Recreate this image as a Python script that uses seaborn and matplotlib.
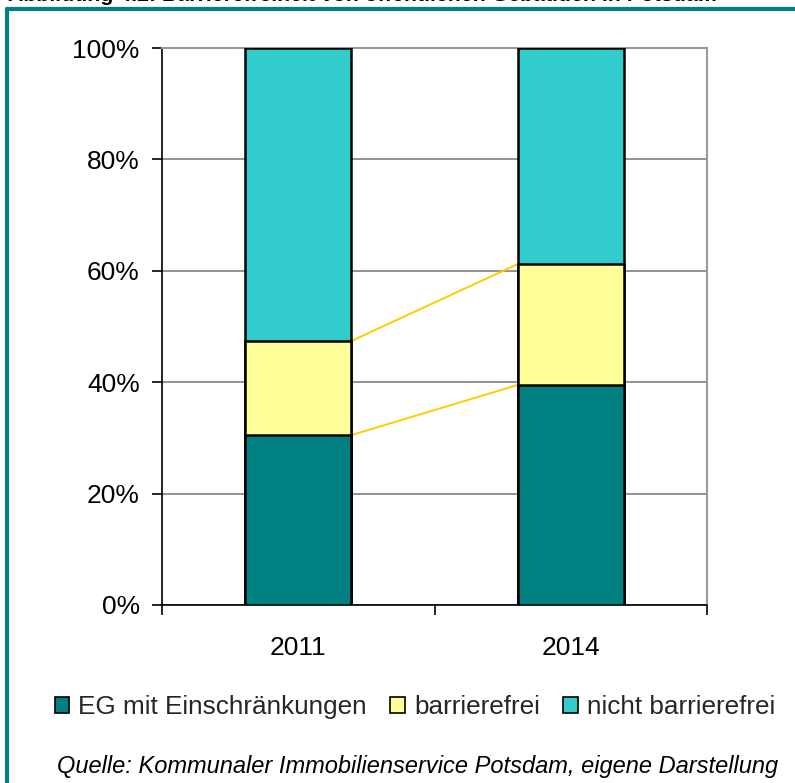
import matplotlib
matplotlib.use("Agg")
import matplotlib.pyplot as plt
import seaborn as sns
import numpy as np
import pandas as pd
from matplotlib.patches import Patch
from matplotlib.lines import Line2D
from matplotlib.ticker import PercentFormatter

years = ["2011", "2014"]
eg_mit = [30.5, 39.5]
barrierefrei = [16.9, 21.7]
nicht_barrierefrei = [52.6, 38.8]
series_names = ["EG mit Einschränkungen", "barrierefrei", "nicht barrierefrei"]
colors = ["#008080", "#FFFF99", "#33CCCC"]

sns.set_theme(style="white")
plt.rcParams['font.family'] = ['Liberation Sans', 'DejaVu Sans']

fig = plt.figure(figsize=(7.95, 7.83), dpi=100)
ax = fig.add_axes([162/795, 1-605/783, (707-162)/795, (605-48)/783])

c1 = np.array(eg_mit) / 100
c2 = c1 + np.array(barrierefrei) / 100
c3 = c2 + np.array(nicht_barrierefrei) / 100
df = pd.DataFrame({"year": years, "c1": c1, "c2": c2, "c3": c3})

bw = 0.39
for col, colr in zip(["c3", "c2", "c1"], colors[::-1]):
    sns.barplot(data=df, x="year", y=col, color=colr, width=bw,
                edgecolor="black", linewidth=1.8, saturation=1, ax=ax, zorder=3)

# connector lines
for arr in (c1, c2):
    ax.plot([0 + bw/2, 1 - bw/2], [arr[0], arr[1]], color="#FFCC00", lw=1.4, zorder=2)

ax.set_xlim(-0.5, 1.5)
ax.set_ylim(0, 1)
ax.set_yticks(np.linspace(0, 1, 6))
ax.yaxis.set_major_formatter(PercentFormatter(1.0, decimals=0))
ax.yaxis.grid(True, color="#808080", lw=1.2)
ax.set_axisbelow(True)
ax.set_xlabel("")
ax.set_ylabel("")

for s in ["top", "right"]:
    ax.spines[s].set_color("#999999")
    ax.spines[s].set_linewidth(1.5)
for s in ["left", "bottom"]:
    ax.spines[s].set_color("black")
    ax.spines[s].set_linewidth(1.2)

ax.set_xticks([0, 1])
ax.set_xticklabels(years)
ax.set_xticks([-0.5, 0.5, 1.5], minor=True)
ax.tick_params(axis="x", which="major", length=0, pad=22, labelsize=19, colors="black")
ax.tick_params(axis="x", which="minor", length=7, width=1.2, direction="out", color="black", bottom=True)
ax.tick_params(axis="y", which="major", length=7, width=1.2, direction="out", color="black",
               left=True, pad=9, labelsize=19, labelcolor="black")

handles = [Patch(facecolor=c, edgecolor="black", linewidth=1.2) for c in colors]
fig.legend(handles, series_names, loc="center", bbox_to_anchor=(0.522, 1-707/783), ncol=3,
           frameon=False, fontsize=18.8, handlelength=0.55, handleheight=0.55,
           handletextpad=0.35, columnspacing=0.9)

fig.text(778/795, 1-766/783, "Quelle: Kommunaler Immobilienservice Potsdam, eigene Darstellung",
         ha="right", va="center", fontsize=17.0, style="italic", color="black")

fig.text(8/795, 1-1/783, "Abbildung 4.2: Barrierefreiheit von öffentlichen Gebäuden in Potsdam",
         ha="left", va="baseline", fontsize=15.3, fontweight="bold", color="black")

# frame
fig.add_artist(Line2D([7/795, 7/795], [0, 1-9/783], color="#008080", lw=3, transform=fig.transFigure))
fig.add_artist(Line2D([7/795, 1], [1-9/783, 1-9/783], color="#008080", lw=3, transform=fig.transFigure))

fig.savefig("out.png", dpi=100)
